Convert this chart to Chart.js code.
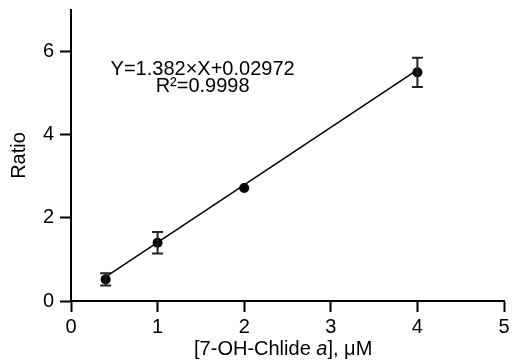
<!DOCTYPE html>
<html><head><meta charset="utf-8">
<script src="https://cdn.jsdelivr.net/npm/chart.js@4"></script>
<style>html,body{margin:0;padding:0;background:#fff}canvas{display:block}</style>
</head><body>
<canvas id="c" width="512" height="364"></canvas>
<script>
// ---- data ----
const concentrations = [0.4, 1, 2, 4];
const ratios = [0.52, 1.40, 2.72, 5.50];
const ratioErrors = [0.15, 0.26, 0.02, 0.35];
const fitSlope = 1.382;
const fitIntercept = 0.02972;
const xTicks = [0, 1, 2, 3, 4, 5];
const yTicks = [0, 2, 4, 6];
const equationText = 'Y=1.382\u00D7X+0.02972';
const r2Text = 'R\u00B2=0.9998';
const xTitleParts = ['[7-OH-Chlide ', 'a', '], \u03BCM'];
const yTitle = 'Ratio';

const FONT = '"Liberation Sans", Arial, sans-serif';
const POINT_R = 5;

const fitX = [concentrations[0], concentrations[concentrations.length - 1]];
const fitPoints = fitX.map(x => ({x: x, y: fitSlope * x + fitIntercept}));
const points = concentrations.map((x, i) => ({x: x, y: ratios[i]}));

const extras = {
  id: 'extras',
  afterDatasetsDraw(chart) {
    const ctx = chart.ctx;
    const xs = chart.scales.x, ys = chart.scales.y;
    ctx.save();
    ctx.strokeStyle = '#222';
    ctx.lineWidth = 2;
    concentrations.forEach((x, i) => {
      const px = xs.getPixelForValue(x);
      const top = ys.getPixelForValue(ratios[i] + ratioErrors[i]);
      const bot = ys.getPixelForValue(ratios[i] - ratioErrors[i]);
      if ((bot - top) / 2 <= POINT_R) return; // hidden behind the symbol
      ctx.beginPath();
      ctx.moveTo(px, top); ctx.lineTo(px, bot);
      ctx.moveTo(px - 5.5, top); ctx.lineTo(px + 5.5, top);
      ctx.moveTo(px - 5.5, bot); ctx.lineTo(px + 5.5, bot);
      ctx.stroke();
    });
    ctx.restore();
  },
  afterDraw(chart) {
    const ctx = chart.ctx;
    const xs = chart.scales.x, ys = chart.scales.y;
    ctx.save();
    ctx.fillStyle = '#000';
    ctx.font = '20px ' + FONT;
    ctx.textAlign = 'center';
    ctx.textBaseline = 'alphabetic';
    const ax = xs.getPixelForValue(1.52);
    ctx.fillText(equationText, ax, ys.getPixelForValue(5.44));
    ctx.fillText(r2Text, ax, ys.getPixelForValue(5.03));
    const fonts = ['20px ' + FONT, 'italic 20px ' + FONT, '20px ' + FONT];
    const widths = xTitleParts.map((t, i) => { ctx.font = fonts[i]; return ctx.measureText(t).width; });
    const total = widths.reduce((a, b) => a + b, 0);
    let cx = xs.getPixelForValue(2.45) - total / 2;
    const by = chart.chartArea.bottom + 54;
    ctx.textAlign = 'left';
    xTitleParts.forEach((t, i) => {
      ctx.font = fonts[i];
      ctx.fillText(t, cx, by);
      cx += widths[i];
    });
    ctx.restore();
  }
};

new Chart(document.getElementById('c'), {
  type: 'scatter',
  data: {
    datasets: [
      {
        data: points,
        showLine: false,
        pointRadius: POINT_R,
        pointHoverRadius: POINT_R,
        pointBackgroundColor: '#000',
        pointBorderWidth: 0,
        order: 0
      },
      {
        data: fitPoints,
        showLine: true,
        borderColor: '#000',
        borderWidth: 1.5,
        pointRadius: 0,
        fill: false,
        order: 1
      }
    ]
  },
  options: {
    responsive: false,
    animation: false,
    devicePixelRatio: 1,
    layout: {padding: {top: 10, right: 8, left: 0, bottom: 0}},
    plugins: {legend: {display: false}, tooltip: {enabled: false}},
    scales: {
      x: {
        type: 'linear',
        min: 0, max: 5,
        afterBuildTicks: s => { s.ticks = xTicks.map(v => ({value: v})); },
        afterFit: s => { s.height = 63; s.paddingLeft = 0; s.paddingRight = 0; },
        grid: {drawOnChartArea: false, drawTicks: true, tickLength: 11, tickWidth: 2, tickColor: '#000'},
        border: {display: true, width: 2, color: '#000'},
        ticks: {color: '#000', font: {family: FONT, size: 20}, padding: 3, maxRotation: 0}
      },
      y: {
        type: 'linear',
        min: 0, max: 7,
        afterBuildTicks: s => { s.ticks = yTicks.map(v => ({value: v})); },
        afterFit: s => { s.width = 71; s.paddingTop = 0; s.paddingBottom = 0; },
        grid: {drawOnChartArea: false, drawTicks: true, tickLength: 11, tickWidth: 2, tickColor: '#000'},
        border: {display: true, width: 2, color: '#000'},
        ticks: {color: '#000', font: {family: FONT, size: 20}, padding: 6},
        title: {display: true, text: yTitle, color: '#000', font: {family: FONT, size: 20}, padding: {top: 7, bottom: 0}}
      }
    }
  },
  plugins: [extras]
});
</script>
</body></html>
